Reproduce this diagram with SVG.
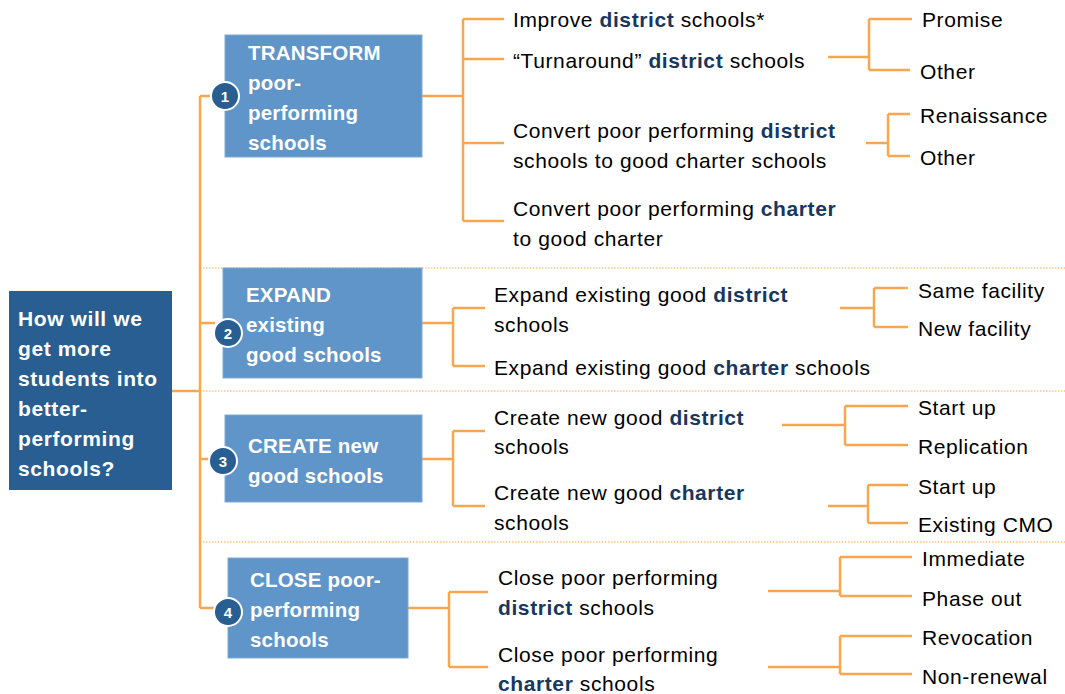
<svg xmlns="http://www.w3.org/2000/svg" width="1065" height="694" viewBox="0 0 1065 694">
<style>
.ln{fill:none;stroke:#F9A650;stroke-width:2.5}
.dot{fill:none;stroke:#F9A650;stroke-width:1.2;stroke-dasharray:1.5 1.5}
.bt{font-family:"Liberation Sans",Arial,sans-serif;font-weight:bold;font-size:20.5px;fill:#fff;letter-spacing:0.2px}
.rt{font-family:"Liberation Sans",Arial,sans-serif;font-weight:bold;font-size:21px;fill:#fff;letter-spacing:0.6px}
.t{font-family:"Liberation Sans",Arial,sans-serif;font-size:21px;fill:#000;letter-spacing:0.6px}
.b{font-weight:bold;fill:#17375E}
.box{fill:#5F95C8;stroke:#7FA9D6;stroke-width:1}
.num{fill:#285E91;stroke:#fff;stroke-width:2}
.nt{font-family:"Liberation Sans",Arial,sans-serif;font-weight:bold;font-size:15px;fill:#fff;text-anchor:middle}
</style>
<rect width="1065" height="694" fill="#fff"/>
<g id="separators">
<line class="dot" x1="200" y1="268" x2="1065" y2="268"/>
<line class="dot" x1="200" y1="391" x2="1065" y2="391"/>
<line class="dot" x1="200" y1="542" x2="1065" y2="542"/>
</g>
<g id="connectors">
<path class="ln" d="M172 391H200M200 96V608M200 96H212M200 323H215M200 459H210M200 608H214"/>
<path class="ln" d="M422 96H463M463 19V221M463 19H504M463 59H504M463 143H504M463 221H504"/>
<path class="ln" d="M828 57H869M869 19V70M869 19H912M869 70H910"/>
<path class="ln" d="M866 143H888M888 114V156M888 114H910M888 156H910"/>
<path class="ln" d="M422 323H453M453 308V366M453 308H485M453 366H485"/>
<path class="ln" d="M840 308H874M874 288V327M874 288H908M874 327H908"/>
<path class="ln" d="M422 459H453M453 431V506M453 431H485M453 506H485"/>
<path class="ln" d="M782 425H845M845 406V445M845 406H908M845 445H908"/>
<path class="ln" d="M828 506H868M868 485V523M868 485H908M868 523H908"/>
<path class="ln" d="M408 608H449M449 592V667M449 592H488M449 667H488"/>
<path class="ln" d="M768 591H840M840 557V596M840 557H912M840 596H912"/>
<path class="ln" d="M768 667H840M840 636V674M840 636H912M840 674H912"/>
</g>
<g id="root">
<rect x="9" y="291" width="163" height="199" fill="#285E91"/>
<text class="rt" x="18" y="326">How will we</text>
<text class="rt" x="18" y="356">get more</text>
<text class="rt" x="18" y="386">students into</text>
<text class="rt" x="18" y="416">better-</text>
<text class="rt" x="18" y="446">performing</text>
<text class="rt" x="18" y="476">schools?</text>
</g>
<g id="transform">
<rect class="box" x="225" y="35" width="197" height="122"/>
<text class="bt" x="248" y="60">TRANSFORM</text>
<text class="bt" x="248" y="90">poor-</text>
<text class="bt" x="248" y="120">performing</text>
<text class="bt" x="248" y="150">schools</text>
<circle class="num" cx="225" cy="96" r="14"/>
<text class="nt" x="225" y="101.5">1</text>
</g>
<g id="expand">
<rect class="box" x="223" y="268" width="199" height="110"/>
<text class="bt" x="246" y="302">EXPAND</text>
<text class="bt" x="246" y="332">existing</text>
<text class="bt" x="246" y="362">good schools</text>
<circle class="num" cx="228" cy="333" r="14"/>
<text class="nt" x="228" y="338.5">2</text>
</g>
<g id="create">
<rect class="box" x="225" y="415" width="197" height="87"/>
<text class="bt" x="248" y="453">CREATE new</text>
<text class="bt" x="248" y="483">good schools</text>
<circle class="num" cx="223" cy="461" r="14"/>
<text class="nt" x="223" y="466.5">3</text>
</g>
<g id="close">
<rect class="box" x="228" y="558" width="180" height="100"/>
<text class="bt" x="250" y="587">CLOSE poor-</text>
<text class="bt" x="250" y="617">performing</text>
<text class="bt" x="250" y="647">schools</text>
<circle class="num" cx="228" cy="612" r="14"/>
<text class="nt" x="228" y="617.5">4</text>
</g>
<g id="transform-options">
<text class="t" x="513" y="27">Improve <tspan class="b">district</tspan> schools*</text>
<text class="t" x="513" y="68">“Turnaround” <tspan class="b">district</tspan> schools</text>
<text class="t" x="513" y="138">Convert poor performing <tspan class="b">district</tspan></text>
<text class="t" x="513" y="168">schools to good charter schools</text>
<text class="t" x="513" y="216">Convert poor performing <tspan class="b">charter</tspan></text>
<text class="t" x="513" y="246">to good charter</text>
<text class="t" x="922" y="27">Promise</text>
<text class="t" x="920" y="79">Other</text>
<text class="t" x="920" y="123">Renaissance</text>
<text class="t" x="920" y="165">Other</text>
</g>
<g id="expand-options">
<text class="t" x="494" y="302">Expand existing good <tspan class="b">district</tspan></text>
<text class="t" x="494" y="332">schools</text>
<text class="t" x="494" y="375">Expand existing good <tspan class="b">charter</tspan> schools</text>
<text class="t" x="918" y="298">Same facility</text>
<text class="t" x="918" y="336">New facility</text>
</g>
<g id="create-options">
<text class="t" x="494" y="425">Create new good <tspan class="b">district</tspan></text>
<text class="t" x="494" y="454">schools</text>
<text class="t" x="494" y="500">Create new good <tspan class="b">charter</tspan></text>
<text class="t" x="494" y="530">schools</text>
<text class="t" x="918" y="415">Start up</text>
<text class="t" x="918" y="454">Replication</text>
<text class="t" x="918" y="494">Start up</text>
<text class="t" x="918" y="532">Existing CMO</text>
</g>
<g id="close-options">
<text class="t" x="498" y="585">Close poor performing</text>
<text class="t" x="498" y="615"><tspan class="b">district</tspan> schools</text>
<text class="t" x="498" y="662">Close poor performing</text>
<text class="t" x="498" y="691"><tspan class="b">charter</tspan> schools</text>
<text class="t" x="922" y="566">Immediate</text>
<text class="t" x="922" y="606">Phase out</text>
<text class="t" x="922" y="645">Revocation</text>
<text class="t" x="922" y="684">Non-renewal</text>
</g>
</svg>
